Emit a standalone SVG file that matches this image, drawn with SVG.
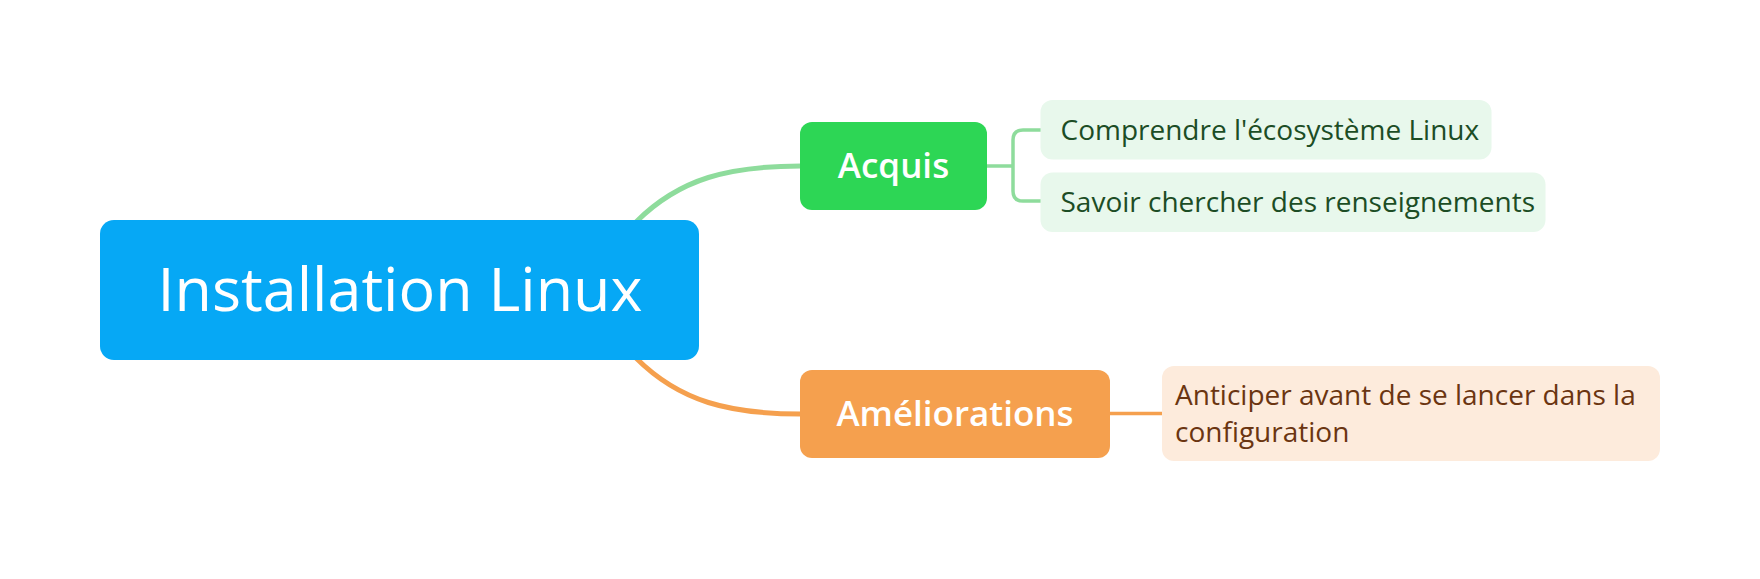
<svg xmlns="http://www.w3.org/2000/svg" width="1760" height="579" viewBox="0 0 1760 579">
<style>
text{font-family:"Open Sans","Noto Sans","Liberation Sans",sans-serif}
.root{fill:#06A8F5}
.rootT{fill:#fff;font-size:61px;text-anchor:middle}
.main{font-size:35px;fill:#fff;text-anchor:middle;font-weight:600}
.gleaf{fill:#E8F8EC}
.gT{fill:#1C4D25;font-size:28px}
.oleaf{fill:#FDEBDC}
.oT{fill:#6B3511;font-size:28px}
.gl{stroke:#8EDC9C;fill:none}
.ol{stroke:#F5A04E;fill:none}
</style>
<rect width="1760" height="579" fill="#fff"/>
<g id="connectors">
<path class="gl" stroke-width="5" d="M636,222 C680,178 730,166 801,166"/>
<path class="ol" stroke-width="5" d="M636,358 C680,402 730,414 801,414"/>
<path class="gl" stroke-width="3.5" d="M986,166 H1013 M1041,130 H1023 Q1013,130 1013,140 V191 Q1013,201 1023,201 H1041"/>
<path class="ol" stroke-width="3.5" d="M1109,413.5 H1163"/>
</g>
<g id="root">
<rect class="root" x="100" y="220" width="599" height="140" rx="14"/>
<text class="rootT" x="400" y="311">Installation Linux</text>
</g>
<g id="acquis">
<rect x="800" y="122" width="187" height="88" rx="12" fill="#2DD655"/>
<text class="main" x="893.5" y="178">Acquis</text>
</g>
<g id="ameliorations">
<rect x="800" y="370" width="310" height="88" rx="12" fill="#F5A04E"/>
<text class="main" x="955" y="426">Améliorations</text>
</g>
<g id="leaf1">
<rect class="gleaf" x="1040.5" y="100" width="451" height="59.5" rx="12"/>
<text class="gT" x="1060.5" y="140">Comprendre l'écosystème Linux</text>
</g>
<g id="leaf2">
<rect class="gleaf" x="1040.5" y="172.5" width="505" height="59.5" rx="12"/>
<text class="gT" x="1060.5" y="212">Savoir chercher des renseignements</text>
</g>
<g id="leaf3">
<rect class="oleaf" x="1162" y="366" width="498" height="95" rx="12"/>
<text class="oT" x="1175" y="405">Anticiper avant de se lancer dans la</text>
<text class="oT" x="1175" y="442">configuration</text>
</g>
</svg>
